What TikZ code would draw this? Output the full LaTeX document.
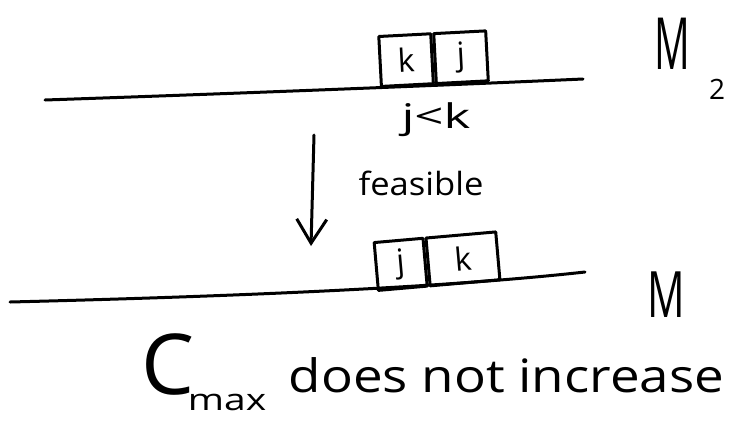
\documentclass[tikz,border=0pt]{standalone}
\usepackage{fontspec}
\setmainfont{Open Sans}
\usetikzlibrary{arrows.meta}
\begin{document}
\begin{tikzpicture}[x=1pt,y=-1pt,line width=3pt,line cap=round,line join=round,
  jobbox/.style={draw,inner sep=0pt,minimum height=48pt,anchor=south west,
    font=\fontsize{32}{32}\selectfont},
  lbl/.style={inner sep=0pt}]
\useasboundingbox (0,0) rectangle (741,424);
% machine M2 with k scheduled before j
\coordinate (m2a) at (45,100);
\coordinate (m2b) at (583,79);
\draw (m2a) .. controls (250,93) and (450,85) .. (m2b);
\node[jobbox,minimum width=52pt,minimum height=50pt,rotate=3] (k1) at (380,88) {k};
\node[jobbox,minimum width=52pt,minimum height=50pt,rotate=3] (j1) at (k1.south east) {j};
\node[lbl,font=\fontsize{34}{34}\selectfont,xscale=1.5] (cmp) at (436,120) {j<k};
\node[lbl,font=\fontsize{72}{72}\selectfont,xscale=0.55] (m2) at (672,44) {M};
\node[lbl,font=\fontsize{28}{28}\selectfont] (sub2) at (717,89) {2};
% the swap is feasible
\coordinate (atop) at (314,135);
\coordinate (abot) at (311,246);
\draw[-{Straight Barb[length=24pt,width=30pt]}] (atop) -- (abot);
\node[lbl,font=\fontsize{32}{32}\selectfont,xscale=1.08] (feas) at (421,183) {feasible};
% machine M with j scheduled before k
\coordinate (ma) at (10,302);
\coordinate (mb) at (585,272);
\draw (ma) .. controls (250,296) and (450,287) .. (mb);
\node[jobbox,minimum width=49pt,rotate=5] (j2) at (377,292) {j};
\node[jobbox,minimum width=70pt,rotate=5] (k2) at (j2.south east) {k};
\node[lbl,font=\fontsize{64}{64}\selectfont,xscale=0.65] (m) at (666,295) {M};
% conclusion
\node[lbl,font=\fontsize{84}{84}\selectfont,anchor=base] (c) at (168,394) {C};
\node[lbl,font=\fontsize{30}{30}\selectfont,xscale=1.3,anchor=base] (cmax) at (227,410) {max};
\node[lbl,font=\fontsize{46}{46}\selectfont,xscale=1.15,anchor=base west] (txt) at (287,392) {does not increase};
\end{tikzpicture}
\end{document}
